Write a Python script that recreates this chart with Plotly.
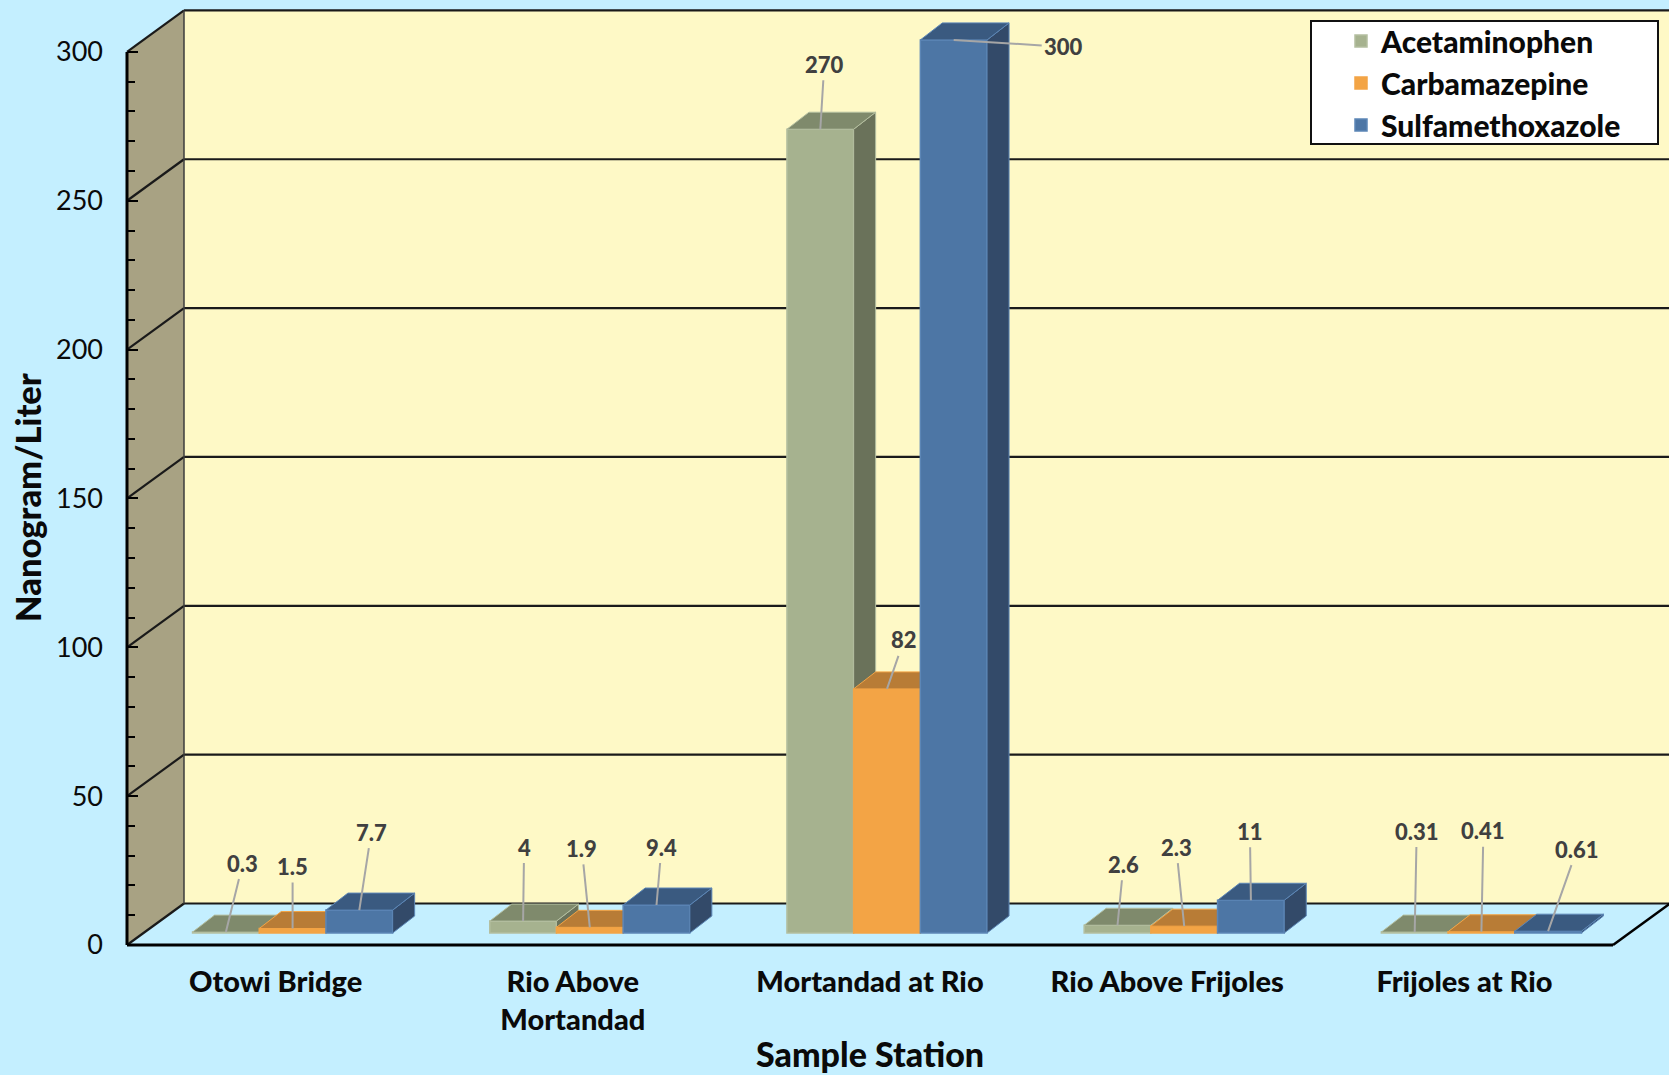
import plotly.graph_objects as go

# Sample data (nanograms per liter)
stations = ["Otowi Bridge", "Rio Above<br>Mortandad", "Mortandad at Rio", "Rio Above Frijoles", "Frijoles at Rio"]
acetaminophen = [0.3, 4, 270, 2.6, 0.31]
carbamazepine = [1.5, 1.9, 82, 2.3, 0.41]
sulfamethoxazole = [7.7, 9.4, 300, 11, 0.61]
value_ticks = [0, 50, 100, 150, 200, 250, 300]
minor_ticks = [10, 20, 30, 40, 60, 70, 80, 90, 110, 120, 130, 140, 160, 170, 180, 190,
               210, 220, 230, 240, 260, 270, 280, 290]

# Canvas and axis calibration
W, H = 1669, 1075
AXIS_LEFT, AXIS_BASE = 127, 945
PX_PER_STATION, PX_PER_UNIT = 297.2, 2.977
FONT = "Lato"
HEAVY = 900
INK = "#0a0a0a"

# Oblique projection: room depth, bar inset and bar depth in axis units
ROOM_DX, ROOM_DY = 57 / PX_PER_STATION, 41.5 / PX_PER_UNIT
BAR_SHIFT, BAR_BASE = 17 / PX_PER_STATION, 12 / PX_PER_UNIT
BAR_W = 66.7 / PX_PER_STATION
TOP_DX, TOP_DY = 22 / PX_PER_STATION, 17 / PX_PER_UNIT
N = len(stations)

x_range = [-AXIS_LEFT / PX_PER_STATION, (W - AXIS_LEFT) / PX_PER_STATION]
y_range = [-(H - AXIS_BASE) / PX_PER_UNIT, AXIS_BASE / PX_PER_UNIT]

series = [
    ("Acetaminophen", acetaminophen, "#a6b28f", "#7f8a6c", "#6a725a", "#b4bfa0"),
    ("Carbamazepine", carbamazepine, "#f3a445", "#b87c36", "#9a682d", "#f3a445"),
    ("Sulfamethoxazole", sulfamethoxazole, "#4d76a5", "#3a5a80", "#334a69", "#5c86b6"),
]

# Pixel offsets of each value label from the top of its bar
label_offsets = [
    [(17, -69), (1, -74), (4, -65), (6, -61), (2, -101)],
    [(0, -62), (-8, -79), (17, -49), (-8, -79), (2, -101)],
    [(12, -78), (5, -58), (110, 7), (-1, -69), (29, -82)],
]

fig = go.Figure()
annotations = []

for j, (name, values, front, top, side, edge) in enumerate(series):
    suffix = "" if j == 0 else str(j + 1)
    xa, ya = "x" + suffix, "y" + suffix
    centers = [i + 0.5 + BAR_SHIFT + (j - 1) * BAR_W for i in range(N)]

    fig.add_bar(
        x=centers, y=values, base=BAR_BASE, width=BAR_W, name=name, xaxis=xa, yaxis=ya,
        legendgroup=name,
        marker=dict(color=front, line=dict(color=edge, width=1.5)),
        customdata=stations, hovertemplate="%{customdata}: %{y}<extra>" + name + "</extra>",
    )

    top_x, top_y, side_x, side_y = [], [], [], []
    for c, v in zip(centers, values):
        x0, x1, t = c - BAR_W / 2, c + BAR_W / 2, BAR_BASE + v
        top_x += [x0, x1, x1 + TOP_DX, x0 + TOP_DX, x0, None]
        top_y += [t, t, t + TOP_DY, t + TOP_DY, t, None]
        side_x += [x1, x1, x1 + TOP_DX, x1 + TOP_DX, x1, None]
        side_y += [BAR_BASE, t, t + TOP_DY, BAR_BASE + TOP_DY, BAR_BASE, None]
    for fx, fy, color in ((side_x, side_y, side), (top_x, top_y, top)):
        fig.add_scatter(
            x=fx, y=fy, xaxis=xa, yaxis=ya, mode="lines", fill="toself", fillcolor=color,
            line=dict(color=edge, width=1), showlegend=False, hoverinfo="skip",
        )

    for c, v, (ox, oy) in zip(centers, values, label_offsets[j]):
        annotations.append(dict(
            x=c, y=BAR_BASE + v, xref="x", yref="y", text=str(v),
            ax=ox, ay=oy, showarrow=True, arrowhead=0, arrowwidth=2, arrowcolor="#a6a6a6",
            font=dict(family=FONT, size=22, color="#404040", weight=HEAVY), borderpad=2,
        ))

# Chart-wide text that sits outside the tick labels
annotations += [
    dict(text="Sample Station", x=870 / W, y=0, xref="paper", yref="paper",
         xanchor="center", yanchor="bottom", showarrow=False, borderpad=0,
         font=dict(family=FONT, size=34, color=INK, weight=HEAVY)),
    dict(text="Nanogram/Liter", x=27 / W, y=1 - 498 / H, xref="paper", yref="paper",
         xanchor="center", yanchor="middle", showarrow=False, textangle=-90,
         font=dict(family=FONT, size=34.5, color=INK, weight=HEAVY)),
]


def line(x0, y0, x1, y1, color="#1a1a1a", width=2.2):
    return dict(type="line", x0=x0, y0=y0, x1=x1, y1=y1, xref="x", yref="y",
                layer="below", line=dict(color=color, width=width))


right = N + ROOM_DX
top_value = value_ticks[-1]
shapes = [
    # Back wall and side wall of the room
    dict(type="rect", x0=ROOM_DX, x1=right, y0=ROOM_DY, y1=top_value + ROOM_DY, xref="x", yref="y",
         layer="below", fillcolor="#fef9c6", line=dict(width=0)),
    dict(type="path", xref="x", yref="y", layer="below", fillcolor="#a8a283", line=dict(width=0),
         path=f"M 0 0 L 0 {top_value} L {ROOM_DX} {top_value + ROOM_DY} L {ROOM_DX} {ROOM_DY} Z"),
]
for v in value_ticks:
    shapes.append(line(ROOM_DX, v + ROOM_DY, right, v + ROOM_DY))
    shapes.append(line(0, v, ROOM_DX, v + ROOM_DY))
shapes += [
    line(ROOM_DX, ROOM_DY, ROOM_DX, top_value + ROOM_DY, "#3c3c3c", 1.5),
    line(0, 0, 0, top_value, "#000000", 3),
    line(0, 0, N, 0, "#000000", 3),
    line(N, 0, right, ROOM_DY, "#000000", 2.5),
    # Legend frame
    dict(type="rect", x0=1311 / W, x1=1658 / W, y0=1 - 144 / H, y1=1 - 21 / H, xref="paper", yref="paper",
         fillcolor="#ffffff", line=dict(color="#111111", width=2)),
]

overlay = dict(range=x_range, visible=False, overlaying="x", domain=[0, 1])
overlay_y = dict(range=y_range, visible=False, overlaying="y", domain=[0, 1])

fig.update_layout(
    width=W, height=H, margin=dict(l=0, r=0, t=0, b=0), autosize=False,
    paper_bgcolor="#c4efff", plot_bgcolor="#c4efff", barmode="overlay",
    font=dict(family=FONT, color=INK),
    shapes=shapes, annotations=annotations,
    legend=dict(x=1341 / W, y=1 - 15 / H, xanchor="left", yanchor="top", bgcolor="rgba(0,0,0,0)",
                font=dict(family=FONT, size=30, color=INK, weight=HEAVY), tracegroupgap=0,
                traceorder="normal"),
    xaxis=dict(
        range=x_range, domain=[0, 1], anchor="free", position=(H - AXIS_BASE) / H, showgrid=False,
        zeroline=False, showline=False, ticks="", tickvals=[i + 0.5 for i in range(N)], ticktext=stations,
        ticklabelstandoff=17, tickangle=0,
        tickfont=dict(family=FONT, size=29, color=INK, weight=HEAVY),
    ),
    yaxis=dict(
        range=y_range, domain=[0, 1], anchor="free", position=AXIS_LEFT / W, showgrid=False,
        zeroline=False, showline=False, tickvals=value_ticks, ticks="inside", ticklen=10, tickwidth=2,
        tickcolor="#000000", ticklabelstandoff=24,
        minor=dict(tickvals=minor_ticks, ticks="inside", ticklen=7, tickwidth=1.5, tickcolor="#000000"),
        tickfont=dict(family=FONT, size=27, color=INK),
    ),
    xaxis2=overlay, yaxis2=overlay_y, xaxis3=overlay, yaxis3=overlay_y,
)

fig.write_html("out.html")
